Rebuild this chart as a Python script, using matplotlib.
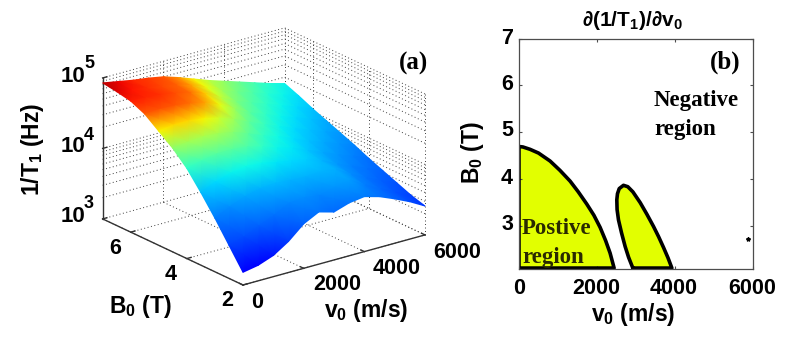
import numpy as np
import matplotlib
matplotlib.use('Agg')
import matplotlib.pyplot as plt
from mpl_toolkits.mplot3d import proj3d

plt.rcParams['font.family'] = ['Liberation Sans', 'DejaVu Sans']
plt.rcParams['mathtext.fontset'] = 'custom'
plt.rcParams['mathtext.rm'] = 'Liberation Sans:bold'
plt.rcParams['mathtext.bf'] = 'Liberation Sans:bold'
plt.rcParams['mathtext.it'] = 'Liberation Sans:italic'

# log10(1/T1)
v_grid = [0, 500, 1000, 1500, 2000, 2500, 3000, 3500, 4000, 4500, 5000, 5500, 6000]
b_grid = [7, 6.5, 6, 5.5, 5, 4.5, 4, 3.5, 3, 2.5, 2]
log_rate = [
    [4.93, 4.89, 4.85, 4.82, 4.78, 4.71, 4.63, 4.55, 4.48, 4.41, 4.34, 4.27, 4.21],
    [4.90, 4.87, 4.84, 4.80, 4.76, 4.69, 4.60, 4.50, 4.42, 4.35, 4.27, 4.20, 4.13],
    [4.86, 4.85, 4.83, 4.79, 4.74, 4.66, 4.55, 4.44, 4.36, 4.28, 4.20, 4.12, 4.04],
    [4.77, 4.78, 4.77, 4.74, 4.69, 4.60, 4.48, 4.37, 4.29, 4.20, 4.12, 4.04, 3.96],
    [4.62, 4.65, 4.65, 4.62, 4.57, 4.49, 4.39, 4.30, 4.21, 4.12, 4.04, 3.96, 3.88],
    [4.47, 4.50, 4.52, 4.50, 4.46, 4.38, 4.29, 4.22, 4.13, 4.04, 3.96, 3.88, 3.80],
    [4.28, 4.33, 4.37, 4.37, 4.35, 4.29, 4.21, 4.15, 4.06, 3.97, 3.88, 3.80, 3.71],
    [4.03, 4.12, 4.19, 4.22, 4.21, 4.16, 4.12, 4.08, 4.01, 3.90, 3.81, 3.72, 3.63],
    [3.76, 3.86, 3.95, 4.00, 4.02, 4.00, 3.99, 4.01, 3.98, 3.85, 3.74, 3.64, 3.55],
    [3.47, 3.53, 3.63, 3.72, 3.83, 3.85, 3.82, 3.88, 3.92, 3.79, 3.68, 3.57, 3.47],
    [3.18, 3.22, 3.30, 3.44, 3.63, 3.74, 3.68, 3.75, 3.78, 3.72, 3.63, 3.53, 3.41],
]
# how the log rate runs through the jet colormap
color_z = [3.0, 3.18, 3.47, 3.8, 4.0, 4.22, 4.4, 4.55, 4.6, 4.65, 4.7, 4.75, 4.85, 4.93]
color_c = [0.08, 0.11, 0.19, 0.25, 0.30, 0.37, 0.47, 0.58, 0.63, 0.68, 0.75, 0.80, 0.87, 0.95]

# panel (b) outlines
lobe1_v = [0, 100, 282, 500, 796, 1050, 1310, 1520, 1737, 1920, 2080, 2220, 2336, 2439]
lobe1_b = [4.69, 4.68, 4.63, 4.55, 4.38, 4.18, 3.95, 3.72, 3.46, 3.22, 2.96, 2.68, 2.41, 2.09]
lobe2_v = [2919, 2810, 2722, 2630, 2551, 2515, 2508, 2525, 2570, 2679, 2790, 2920, 3107, 3280, 3449, 3580, 3706, 3820, 3920]
lobe2_b = [2.09, 2.32, 2.55, 2.84, 3.12, 3.34, 3.55, 3.68, 3.79, 3.86, 3.83, 3.72, 3.49, 3.24, 2.98, 2.76, 2.53, 2.31, 2.09]
speck_v = [5863]
speck_b = [2.72]

W, H = 787, 352
fig = plt.figure(figsize=(W / 100, H / 100), dpi=100)


def px(x, y):
    return x / W, 1 - y / H


def put(x, y, s, size=15.5, **kw):
    kw.setdefault('ha', 'center')
    kw.setdefault('va', 'center')
    kw.setdefault('fontweight', 'bold')
    fig.text(*px(x, y), s, fontsize=size, **kw)


# ---------- panel (a) ----------
ax = fig.add_axes([0.1, 0.1, 0.5, 0.5 * W / H], projection='3d')
ax.set_proj_type('ortho')
ax.view_init(elev=21.1, azim=232.6)
ax.set_box_aspect((229, 231, 151))
ax.set_xlim(0, 6000, view_margin=0)
ax.set_ylim(2, 7, view_margin=0)
ax.set_zlim(3, 5, view_margin=0)
ax.set_axis_off()
ax.patch.set_alpha(0)


def to_pixels(x, y, z):
    shape = np.shape(x)
    xs, ys, _ = proj3d.proj_transform(np.ravel(x).astype(float), np.ravel(y).astype(float), np.ravel(z).astype(float), ax.get_proj())
    pts = ax.transData.transform(np.column_stack([xs, ys]))
    return pts[:, 0].reshape(shape), H - pts[:, 1].reshape(shape)


# fit the box onto the reference corners
fig.canvas.draw()
x0, y0 = to_pixels([0.0], [2.0], [3.0])
x1, y1 = to_pixels([6000.0], [2.0], [3.0])
scale = 182 / (x1[0] - x0[0])
pos = ax.get_position()
ax.set_position([pos.x0, pos.y0, pos.width * scale, pos.height * scale])
fig.canvas.draw()
x0, y0 = to_pixels([0.0], [2.0], [3.0])
pos = ax.get_position()
ax.set_position([pos.x0 + (243 - x0[0]) / W, pos.y0 - (285 - y0[0]) / H, pos.width, pos.height])
fig.canvas.draw()

DOT = dict(color='0.25', lw=0.7, ls=(0, (1, 2.6)))
SOLID = dict(color='0.2', lw=1.0)
minor = np.log10(np.arange(2, 10))
z_lines = [3 + m for m in minor] + [4] + [4 + m for m in minor] + [3, 5]
for z in z_lines:
    ax.plot([0, 6000], [7, 7], [z, z], **DOT)
    ax.plot([6000, 6000], [2, 7], [z, z], **DOT)
for v in [0, 2000, 4000, 6000]:
    ax.plot([v, v], [7, 7], [3, 5], **DOT)
    ax.plot([v, v], [2, 7], [3, 3], **DOT)
for b in [2, 4, 6]:
    ax.plot([6000, 6000], [b, b], [3, 5], **DOT)
    ax.plot([0, 6000], [b, b], [3, 3], **DOT)
ax.plot([0, 0], [7, 7], [3, 5], **SOLID)
ax.plot([0, 0], [2, 7], [3, 3], **SOLID)
ax.plot([0, 6000], [2, 2], [3, 3], **SOLID)
for v in [0, 2000, 4000, 6000]:
    ax.plot([v, v], [2, 2.12], [3, 3], **SOLID)
for b in [2, 4, 6]:
    ax.plot([0, 140], [b, b], [3, 3], **SOLID)
for z in [3, 4, 5]:
    ax.plot([0, 140], [7, 7], [z, z], **SOLID)

# the surface, gouraud shaded like MATLAB's shading interp
V, B = np.meshgrid(v_grid, b_grid)
Z = np.array(log_rate)
X_px, Y_px = to_pixels(V, B, Z)
over = fig.add_axes([0, 0, 1, 1])
over.set_xlim(0, W)
over.set_ylim(H, 0)
over.set_axis_off()
over.patch.set_alpha(0)
over.pcolormesh(X_px, Y_px, np.interp(Z, color_z, color_c), shading='gouraud', cmap='jet', vmin=0, vmax=1)

for y, s, y_sup in [(76, '5', 63), (146, '4', 136), (217, '3', 203)]:
    put(73, y, '10', size=16)
    put(89, y_sup, s, size=13)
put(32, 149, r'$\mathrm{1/T_1\ (Hz)}$', size=16.5, rotation=90)
for x, y, s in [(115, 248, '6'), (171, 275, '4'), (227, 300, '2'), (257, 302, '0'),
                (337, 285, '2000'), (397, 268, '4000'), (457, 252, '6000')]:
    put(x, y, s)
put(140, 307, r'$\mathrm{B_0\ (T)}$', size=16.5)
put(366, 311, r'$\mathrm{v_0\ (m/s)}$', size=16.5)
put(413, 63, '(a)', size=18, family='Liberation Serif')

# ---------- panel (b) ----------
axb = fig.add_axes([519 / W, 1 - 269 / H, 234 / W, 230.5 / H])
axb.set_xlim(0, 6000)
axb.set_ylim(2.07, 7)
axb.fill(lobe1_v + [0], lobe1_b + [2.09], color='#e2ff00', lw=0, zorder=1)
axb.fill(lobe2_v, lobe2_b, color='#e2ff00', lw=0, zorder=1)
axb.plot([0] + lobe1_v + [0], [2.09] + lobe1_b + [2.09], color='k', lw=2.6, zorder=2)
axb.plot(lobe2_v + [2919], lobe2_b + [2.09], color='k', lw=2.6, zorder=2)
axb.plot(speck_v, speck_b, marker='*', ms=3, color='k', zorder=2)
axb.set_xticks([0, 2000, 4000, 6000])
axb.set_yticks([3, 4, 5, 6, 7])
axb.tick_params(direction='in', length=2.5, width=0.8, color='0.3', top=True, right=True, labelleft=False, labelbottom=False)
for spine in axb.spines.values():
    spine.set_color('0.3')
    spine.set_linewidth(0.9)
    spine.set_zorder(3)

for x, s in [(519, '0'), (596, '2000'), (674, '4000'), (752, '6000')]:
    put(x, 288, s)
for y, s in [(38, '7'), (85, '6'), (131, '5'), (178, '4'), (225, '3')]:
    put(507, y, s)
put(472, 153, r'$\mathrm{B_0\ (T)}$', size=16.5, rotation=90)
put(633, 314, r'$\mathrm{v_0\ (m/s)}$', size=16.5)
put(632, 20, r'$\partial\mathrm{(1/T_1)/}\partial\mathrm{v_0}$', size=15)
put(725, 62, '(b)', size=18, family='Liberation Serif')
put(654, 100, 'Negative', size=16.5, ha='left', family='Liberation Serif')
put(654, 129, 'region', size=16.5, ha='left', family='Liberation Serif')
put(522, 229, 'Postive', size=16.5, ha='left', family='Liberation Serif', color='#2a2a00')
put(522, 257, 'region', size=16.5, ha='left', family='Liberation Serif', color='#2a2a00')

fig.savefig('out.png', dpi=100)
